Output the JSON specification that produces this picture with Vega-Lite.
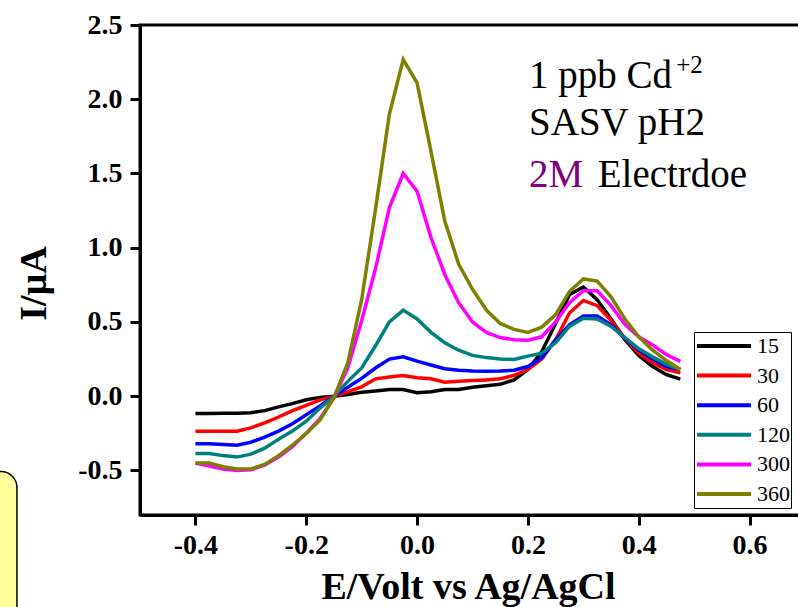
{
  "$schema": "https://vega.github.io/schema/vega-lite/v6.json",
  "width": 665,
  "height": 490,
  "autosize": {"type": "none"},
  "padding": {"left": 140, "top": 25, "right": 0, "bottom": 92},
  "background": "white",
  "config": {"view": {"stroke": "black", "strokeWidth": 3}, "font": "Liberation Serif"},
  "datasets": {
    "cv": [
      {"E": -0.4, "I": -0.117, "t": "15"}, {"E": -0.375, "I": -0.117, "t": "15"}, {"E": -0.35, "I": -0.115, "t": "15"}, {"E": -0.325, "I": -0.115, "t": "15"}, {"E": -0.3, "I": -0.112, "t": "15"}, {"E": -0.275, "I": -0.097, "t": "15"}, {"E": -0.25, "I": -0.072, "t": "15"}, {"E": -0.225, "I": -0.05, "t": "15"}, {"E": -0.2, "I": -0.024, "t": "15"}, {"E": -0.175, "I": -0.008, "t": "15"}, {"E": -0.15, "I": 0.0, "t": "15"}, {"E": -0.125, "I": 0.011, "t": "15"}, {"E": -0.1, "I": 0.027, "t": "15"}, {"E": -0.075, "I": 0.035, "t": "15"}, {"E": -0.05, "I": 0.045, "t": "15"}, {"E": -0.025, "I": 0.045, "t": "15"}, {"E": 0.0, "I": 0.023, "t": "15"}, {"E": 0.025, "I": 0.03, "t": "15"}, {"E": 0.05, "I": 0.045, "t": "15"}, {"E": 0.075, "I": 0.045, "t": "15"}, {"E": 0.1, "I": 0.06, "t": "15"}, {"E": 0.125, "I": 0.07, "t": "15"}, {"E": 0.15, "I": 0.08, "t": "15"}, {"E": 0.175, "I": 0.11, "t": "15"}, {"E": 0.2, "I": 0.18, "t": "15"}, {"E": 0.225, "I": 0.3, "t": "15"}, {"E": 0.25, "I": 0.49, "t": "15"}, {"E": 0.275, "I": 0.685, "t": "15"}, {"E": 0.3, "I": 0.735, "t": "15"}, {"E": 0.325, "I": 0.65, "t": "15"}, {"E": 0.35, "I": 0.52, "t": "15"}, {"E": 0.375, "I": 0.38, "t": "15"}, {"E": 0.4, "I": 0.275, "t": "15"}, {"E": 0.425, "I": 0.2, "t": "15"}, {"E": 0.45, "I": 0.145, "t": "15"}, {"E": 0.475, "I": 0.115, "t": "15"},

      {"E": -0.4, "I": -0.236, "t": "30"}, {"E": -0.375, "I": -0.236, "t": "30"}, {"E": -0.35, "I": -0.236, "t": "30"}, {"E": -0.325, "I": -0.236, "t": "30"}, {"E": -0.3, "I": -0.213, "t": "30"}, {"E": -0.275, "I": -0.18, "t": "30"}, {"E": -0.25, "I": -0.14, "t": "30"}, {"E": -0.225, "I": -0.097, "t": "30"}, {"E": -0.2, "I": -0.062, "t": "30"}, {"E": -0.175, "I": -0.025, "t": "30"}, {"E": -0.15, "I": 0.0, "t": "30"}, {"E": -0.125, "I": 0.03, "t": "30"}, {"E": -0.1, "I": 0.063, "t": "30"}, {"E": -0.075, "I": 0.117, "t": "30"}, {"E": -0.05, "I": 0.13, "t": "30"}, {"E": -0.025, "I": 0.14, "t": "30"}, {"E": 0.0, "I": 0.124, "t": "30"}, {"E": 0.025, "I": 0.117, "t": "30"}, {"E": 0.05, "I": 0.094, "t": "30"}, {"E": 0.075, "I": 0.1, "t": "30"}, {"E": 0.1, "I": 0.105, "t": "30"}, {"E": 0.125, "I": 0.11, "t": "30"}, {"E": 0.15, "I": 0.117, "t": "30"}, {"E": 0.175, "I": 0.14, "t": "30"}, {"E": 0.2, "I": 0.18, "t": "30"}, {"E": 0.225, "I": 0.25, "t": "30"}, {"E": 0.25, "I": 0.38, "t": "30"}, {"E": 0.275, "I": 0.56, "t": "30"}, {"E": 0.3, "I": 0.645, "t": "30"}, {"E": 0.325, "I": 0.61, "t": "30"}, {"E": 0.35, "I": 0.51, "t": "30"}, {"E": 0.375, "I": 0.39, "t": "30"}, {"E": 0.4, "I": 0.29, "t": "30"}, {"E": 0.425, "I": 0.225, "t": "30"}, {"E": 0.45, "I": 0.18, "t": "30"}, {"E": 0.475, "I": 0.157, "t": "30"},

      {"E": -0.4, "I": -0.32, "t": "60"}, {"E": -0.375, "I": -0.32, "t": "60"}, {"E": -0.35, "I": -0.325, "t": "60"}, {"E": -0.325, "I": -0.33, "t": "60"}, {"E": -0.3, "I": -0.31, "t": "60"}, {"E": -0.275, "I": -0.275, "t": "60"}, {"E": -0.25, "I": -0.235, "t": "60"}, {"E": -0.225, "I": -0.185, "t": "60"}, {"E": -0.2, "I": -0.125, "t": "60"}, {"E": -0.175, "I": -0.065, "t": "60"}, {"E": -0.15, "I": 0.0, "t": "60"}, {"E": -0.125, "I": 0.06, "t": "60"}, {"E": -0.1, "I": 0.12, "t": "60"}, {"E": -0.075, "I": 0.19, "t": "60"}, {"E": -0.05, "I": 0.25, "t": "60"}, {"E": -0.025, "I": 0.265, "t": "60"}, {"E": 0.0, "I": 0.236, "t": "60"}, {"E": 0.025, "I": 0.21, "t": "60"}, {"E": 0.05, "I": 0.185, "t": "60"}, {"E": 0.075, "I": 0.175, "t": "60"}, {"E": 0.1, "I": 0.17, "t": "60"}, {"E": 0.125, "I": 0.168, "t": "60"}, {"E": 0.15, "I": 0.17, "t": "60"}, {"E": 0.175, "I": 0.175, "t": "60"}, {"E": 0.2, "I": 0.2, "t": "60"}, {"E": 0.225, "I": 0.26, "t": "60"}, {"E": 0.25, "I": 0.38, "t": "60"}, {"E": 0.275, "I": 0.48, "t": "60"}, {"E": 0.3, "I": 0.54, "t": "60"}, {"E": 0.325, "I": 0.54, "t": "60"}, {"E": 0.35, "I": 0.48, "t": "60"}, {"E": 0.375, "I": 0.39, "t": "60"}, {"E": 0.4, "I": 0.31, "t": "60"}, {"E": 0.425, "I": 0.25, "t": "60"}, {"E": 0.45, "I": 0.2, "t": "60"}, {"E": 0.475, "I": 0.18, "t": "60"},

      {"E": -0.4, "I": -0.386, "t": "120"}, {"E": -0.375, "I": -0.386, "t": "120"}, {"E": -0.35, "I": -0.4, "t": "120"}, {"E": -0.325, "I": -0.41, "t": "120"}, {"E": -0.3, "I": -0.39, "t": "120"}, {"E": -0.275, "I": -0.35, "t": "120"}, {"E": -0.25, "I": -0.29, "t": "120"}, {"E": -0.225, "I": -0.235, "t": "120"}, {"E": -0.2, "I": -0.168, "t": "120"}, {"E": -0.175, "I": -0.08, "t": "120"}, {"E": -0.15, "I": 0.0, "t": "120"}, {"E": -0.125, "I": 0.1, "t": "120"}, {"E": -0.1, "I": 0.19, "t": "120"}, {"E": -0.075, "I": 0.34, "t": "120"}, {"E": -0.05, "I": 0.5, "t": "120"}, {"E": -0.025, "I": 0.58, "t": "120"}, {"E": 0.0, "I": 0.52, "t": "120"}, {"E": 0.025, "I": 0.43, "t": "120"}, {"E": 0.05, "I": 0.36, "t": "120"}, {"E": 0.075, "I": 0.31, "t": "120"}, {"E": 0.1, "I": 0.275, "t": "120"}, {"E": 0.125, "I": 0.26, "t": "120"}, {"E": 0.15, "I": 0.25, "t": "120"}, {"E": 0.175, "I": 0.247, "t": "120"}, {"E": 0.2, "I": 0.27, "t": "120"}, {"E": 0.225, "I": 0.29, "t": "120"}, {"E": 0.25, "I": 0.36, "t": "120"}, {"E": 0.275, "I": 0.47, "t": "120"}, {"E": 0.3, "I": 0.525, "t": "120"}, {"E": 0.325, "I": 0.52, "t": "120"}, {"E": 0.35, "I": 0.47, "t": "120"}, {"E": 0.375, "I": 0.395, "t": "120"}, {"E": 0.4, "I": 0.32, "t": "120"}, {"E": 0.425, "I": 0.265, "t": "120"}, {"E": 0.45, "I": 0.215, "t": "120"}, {"E": 0.475, "I": 0.18, "t": "120"},

      {"E": -0.4, "I": -0.45, "t": "300"}, {"E": -0.375, "I": -0.47, "t": "300"}, {"E": -0.35, "I": -0.49, "t": "300"}, {"E": -0.325, "I": -0.5, "t": "300"}, {"E": -0.3, "I": -0.495, "t": "300"}, {"E": -0.275, "I": -0.465, "t": "300"}, {"E": -0.25, "I": -0.41, "t": "300"}, {"E": -0.225, "I": -0.34, "t": "300"}, {"E": -0.2, "I": -0.25, "t": "300"}, {"E": -0.175, "I": -0.15, "t": "300"}, {"E": -0.15, "I": -0.01, "t": "300"}, {"E": -0.125, "I": 0.19, "t": "300"}, {"E": -0.1, "I": 0.51, "t": "300"}, {"E": -0.075, "I": 0.86, "t": "300"}, {"E": -0.05, "I": 1.27, "t": "300"}, {"E": -0.025, "I": 1.5, "t": "300"}, {"E": 0.0, "I": 1.38, "t": "300"}, {"E": 0.025, "I": 1.07, "t": "300"}, {"E": 0.05, "I": 0.82, "t": "300"}, {"E": 0.075, "I": 0.63, "t": "300"}, {"E": 0.1, "I": 0.5, "t": "300"}, {"E": 0.125, "I": 0.43, "t": "300"}, {"E": 0.15, "I": 0.395, "t": "300"}, {"E": 0.175, "I": 0.38, "t": "300"}, {"E": 0.2, "I": 0.377, "t": "300"}, {"E": 0.225, "I": 0.4, "t": "300"}, {"E": 0.25, "I": 0.5, "t": "300"}, {"E": 0.275, "I": 0.63, "t": "300"}, {"E": 0.3, "I": 0.71, "t": "300"}, {"E": 0.325, "I": 0.71, "t": "300"}, {"E": 0.35, "I": 0.61, "t": "300"}, {"E": 0.375, "I": 0.485, "t": "300"}, {"E": 0.4, "I": 0.4, "t": "300"}, {"E": 0.425, "I": 0.345, "t": "300"}, {"E": 0.45, "I": 0.28, "t": "300"}, {"E": 0.475, "I": 0.235, "t": "300"},

      {"E": -0.4, "I": -0.45, "t": "360"}, {"E": -0.375, "I": -0.45, "t": "360"}, {"E": -0.35, "I": -0.475, "t": "360"}, {"E": -0.325, "I": -0.49, "t": "360"}, {"E": -0.3, "I": -0.49, "t": "360"}, {"E": -0.275, "I": -0.46, "t": "360"}, {"E": -0.25, "I": -0.4, "t": "360"}, {"E": -0.225, "I": -0.33, "t": "360"}, {"E": -0.2, "I": -0.25, "t": "360"}, {"E": -0.175, "I": -0.16, "t": "360"}, {"E": -0.15, "I": -0.01, "t": "360"}, {"E": -0.125, "I": 0.225, "t": "360"}, {"E": -0.1, "I": 0.65, "t": "360"}, {"E": -0.075, "I": 1.26, "t": "360"}, {"E": -0.05, "I": 1.9, "t": "360"}, {"E": -0.025, "I": 2.267, "t": "360"}, {"E": 0.0, "I": 2.11, "t": "360"}, {"E": 0.025, "I": 1.65, "t": "360"}, {"E": 0.05, "I": 1.18, "t": "360"}, {"E": 0.075, "I": 0.89, "t": "360"}, {"E": 0.1, "I": 0.72, "t": "360"}, {"E": 0.125, "I": 0.58, "t": "360"}, {"E": 0.15, "I": 0.49, "t": "360"}, {"E": 0.175, "I": 0.45, "t": "360"}, {"E": 0.2, "I": 0.43, "t": "360"}, {"E": 0.225, "I": 0.465, "t": "360"}, {"E": 0.25, "I": 0.55, "t": "360"}, {"E": 0.275, "I": 0.705, "t": "360"}, {"E": 0.3, "I": 0.79, "t": "360"}, {"E": 0.325, "I": 0.775, "t": "360"}, {"E": 0.35, "I": 0.67, "t": "360"}, {"E": 0.375, "I": 0.52, "t": "360"}, {"E": 0.4, "I": 0.4, "t": "360"}, {"E": 0.425, "I": 0.31, "t": "360"}, {"E": 0.45, "I": 0.24, "t": "360"}, {"E": 0.475, "I": 0.18, "t": "360"}
    ]
  },
  "layer": [
    {
      "data": {"name": "cv"},
      "mark": {"type": "line", "strokeWidth": 3.5, "interpolate": "linear"},
      "encoding": {
        "x": {
          "field": "E", "type": "quantitative",
          "scale": {"domain": [-0.5, 0.7], "nice": false, "zero": false},
          "axis": {
            "values": [-0.4, -0.2, 0, 0.2, 0.4, 0.6],
            "labelExpr": "replace(format(datum.value, '.1f'), '\u2212', '-')",
            "title": "E/Volt vs Ag/AgCl",
            "titleFont": "Liberation Serif", "titleFontSize": 38, "titleFontWeight": "bold", "titleColor": "black",
            "titleBaseline": "alphabetic", "titleY": 83, "titleX": 328,
            "labelFont": "Liberation Serif", "labelFontSize": 28, "labelFontWeight": "bold", "labelColor": "black",
            "labelPadding": 6, "labelFlush": false, "labelOverlap": false,
            "domainColor": "black", "domainWidth": 3,
            "tickColor": "black", "tickWidth": 3, "tickSize": 10, "grid": false
          }
        },
        "y": {
          "field": "I", "type": "quantitative",
          "scale": {"domain": [-0.8, 2.5], "nice": false, "zero": false},
          "axis": {
            "values": [-0.5, 0, 0.5, 1, 1.5, 2, 2.5],
            "labelExpr": "replace(format(datum.value, '.1f'), '\u2212', '-')",
            "title": "I/μA",
            "titleFont": "Liberation Serif", "titleFontSize": 38, "titleFontWeight": "bold", "titleColor": "black",
            "titleBaseline": "alphabetic", "titleAngle": 270, "titleX": -95, "titleY": 258,
            "labelFont": "Liberation Serif", "labelFontSize": 28, "labelFontWeight": "bold", "labelColor": "black",
            "labelPadding": 8, "labelFlush": false, "labelOverlap": false,
            "domainColor": "black", "domainWidth": 3,
            "tickColor": "black", "tickWidth": 3, "tickSize": 10, "grid": false
          }
        },
        "color": {
          "field": "t", "type": "nominal",
          "scale": {
            "domain": ["15", "30", "60", "120", "300", "360"],
            "range": ["#000000", "#FF0000", "#0000FF", "#008080", "#FF00FF", "#808000"]
          },
          "legend": {
            "title": null,
            "orient": "none", "legendX": 554, "legendY": 307,
            "strokeColor": "black", "fillColor": "white",
            "padding": 1,
            "symbolType": "stroke", "symbolSize": 2916, "symbolStrokeWidth": 4,
            "clipHeight": 26, "rowPadding": 3.6, "labelOffset": 4,
            "labelFont": "Liberation Serif", "labelFontSize": 22, "labelColor": "black"
          }
        }
      }
    },
    {
      "data": {"values": [{}]},
      "mark": {"type": "text", "font": "Liberation Serif", "fontSize": 39, "align": "left", "baseline": "alphabetic", "color": "black"},
      "encoding": {
        "x": {"datum": 0.202, "type": "quantitative"},
        "y": {"datum": 2.079, "type": "quantitative"},
        "text": {"value": "1 ppb Cd"}
      }
    },
    {
      "data": {"values": [{}]},
      "mark": {"type": "text", "font": "Liberation Serif", "fontSize": 25, "align": "left", "baseline": "alphabetic", "color": "black"},
      "encoding": {
        "x": {"datum": 0.4675, "type": "quantitative"},
        "y": {"datum": 2.18, "type": "quantitative"},
        "text": {"value": "+2"}
      }
    },
    {
      "data": {"values": [{}]},
      "mark": {"type": "text", "font": "Liberation Serif", "fontSize": 39, "align": "left", "baseline": "alphabetic", "color": "black"},
      "encoding": {
        "x": {"datum": 0.202, "type": "quantitative"},
        "y": {"datum": 1.762, "type": "quantitative"},
        "text": {"value": "SASV pH2"}
      }
    },
    {
      "data": {"values": [{}]},
      "mark": {"type": "text", "font": "Liberation Serif", "fontSize": 39, "align": "left", "baseline": "alphabetic", "color": "#800080"},
      "encoding": {
        "x": {"datum": 0.202, "type": "quantitative"},
        "y": {"datum": 1.412, "type": "quantitative"},
        "text": {"value": "2M"}
      }
    },
    {
      "data": {"values": [{}]},
      "mark": {"type": "text", "font": "Liberation Serif", "fontSize": 39, "align": "left", "baseline": "alphabetic", "color": "black"},
      "encoding": {
        "x": {"datum": 0.326, "type": "quantitative"},
        "y": {"datum": 1.412, "type": "quantitative"},
        "text": {"value": "Electrdoe"}
      }
    },
    {
      "data": {"values": [{}]},
      "mark": {"type": "rect", "fill": "#FFFF99", "stroke": "black", "strokeWidth": 1.5, "cornerRadius": 16, "clip": false},
      "encoding": {
        "x": {"datum": -0.95, "type": "quantitative"},
        "x2": {"datum": -0.722},
        "y": {"datum": -0.507, "type": "quantitative"},
        "y2": {"datum": -1.6}
      }
    }
  ]
}
